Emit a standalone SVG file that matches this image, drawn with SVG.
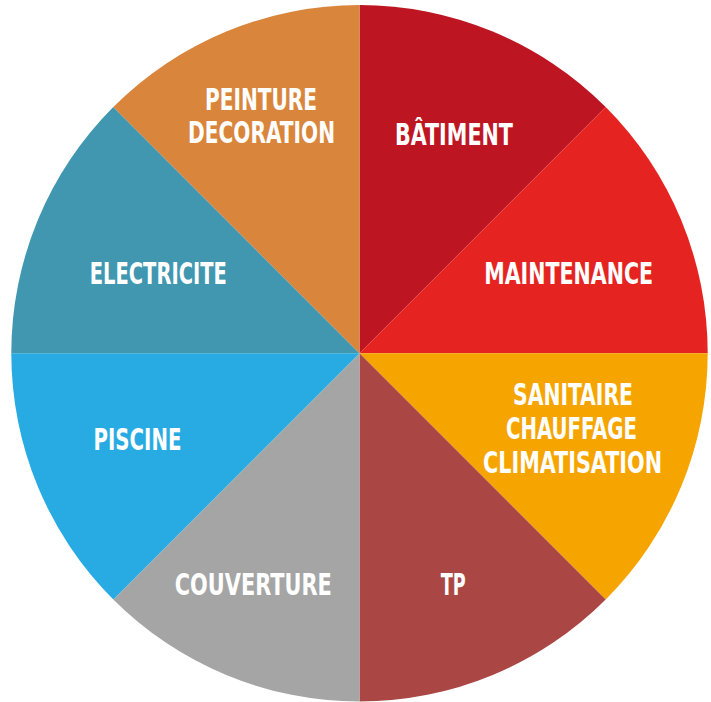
<svg xmlns="http://www.w3.org/2000/svg" width="711" height="702" viewBox="0 0 711 702">
<style>
text{font-family:"Liberation Sans Narrow","DejaVu Sans Condensed","Liberation Sans",sans-serif;font-weight:bold;font-size:30px;fill:#fff;text-anchor:middle}
</style>
<rect width="711" height="702" fill="#fff"/>
<g id="batiment">
<path d="M359.5,353.3 L359.5,5.1 A348.2,348.2 0 0 1 605.7,107.1 Z" fill="#BE1522"/>
<text x="454" y="145" textLength="118" lengthAdjust="spacingAndGlyphs">BÂTIMENT</text>
</g>
<g id="maintenance">
<path d="M359.5,353.3 L605.7,107.1 A348.2,348.2 0 0 1 707.7,353.3 Z" fill="#E52421"/>
<text x="568.7" y="284.3" textLength="169" lengthAdjust="spacingAndGlyphs">MAINTENANCE</text>
</g>
<g id="sanitaire">
<path d="M359.5,353.3 L707.7,353.3 A348.2,348.2 0 0 1 605.7,599.5 Z" fill="#F6A500"/>
<text x="573" y="405" textLength="120" lengthAdjust="spacingAndGlyphs">SANITAIRE</text>
<text x="571.5" y="439.3" textLength="131" lengthAdjust="spacingAndGlyphs">CHAUFFAGE</text>
<text x="572.5" y="472.7" textLength="179" lengthAdjust="spacingAndGlyphs">CLIMATISATION</text>
</g>
<g id="tp">
<path d="M359.5,353.3 L605.7,599.5 A348.2,348.2 0 0 1 359.5,701.5 Z" fill="#AA4644"/>
<text x="453.2" y="595" textLength="25" lengthAdjust="spacingAndGlyphs">TP</text>
</g>
<g id="couverture">
<path d="M359.5,353.3 L359.5,701.5 A348.2,348.2 0 0 1 113.3,599.5 Z" fill="#A5A5A5"/>
<text x="253.3" y="595" textLength="157" lengthAdjust="spacingAndGlyphs">COUVERTURE</text>
</g>
<g id="piscine">
<path d="M359.5,353.3 L113.3,599.5 A348.2,348.2 0 0 1 11.3,353.3 Z" fill="#28ABE2"/>
<text x="137.5" y="450" textLength="88" lengthAdjust="spacingAndGlyphs">PISCINE</text>
</g>
<g id="electricite">
<path d="M359.5,353.3 L11.3,353.3 A348.2,348.2 0 0 1 113.3,107.1 Z" fill="#4197B0"/>
<text x="158.3" y="284.3" textLength="137" lengthAdjust="spacingAndGlyphs">ELECTRICITE</text>
</g>
<g id="peinture">
<path d="M359.5,353.3 L113.3,107.1 A348.2,348.2 0 0 1 359.5,5.1 Z" fill="#DA853C"/>
<text x="261" y="110" textLength="112" lengthAdjust="spacingAndGlyphs">PEINTURE</text>
<text x="261.5" y="143.3" textLength="147" lengthAdjust="spacingAndGlyphs">DECORATION</text>
</g>
</svg>
